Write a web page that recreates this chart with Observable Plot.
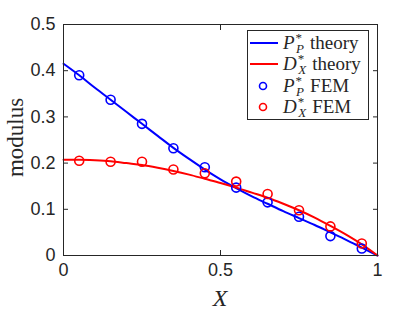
<!DOCTYPE html>
<html><head><meta charset="utf-8">
<script src="https://cdn.jsdelivr.net/npm/d3@7"></script>
<script src="https://cdn.jsdelivr.net/npm/@observablehq/plot@0.6"></script>
<style>html,body{margin:0;padding:0;background:#fff;}</style>
</head><body>
<div id="chart"></div>
<script>
// Data
const xTheory = [0,0.05,0.1,0.15,0.2,0.25,0.3,0.35,0.4,0.45,0.5,0.55,0.6,0.65,0.7,0.75,0.8,0.85,0.9,0.95,1];
const pTheory = [0.415,0.390,0.363,0.337,0.311,0.285,0.259,0.233,0.209,0.186,0.165,0.146,0.128,0.112,0.096,0.081,0.066,0.050,0.034,0.017,0];
const dTheory = [0.207,0.207,0.206,0.204,0.200,0.196,0.190,0.183,0.175,0.166,0.157,0.147,0.136,0.125,0.112,0.098,0.082,0.064,0.045,0.024,0];
const xFem = [0.05,0.15,0.25,0.35,0.45,0.55,0.65,0.75,0.85,0.95];
const pFem = [0.390,0.337,0.285,0.232,0.191,0.147,0.115,0.084,0.042,0.015];
const dFem = [0.205,0.203,0.203,0.186,0.178,0.160,0.133,0.098,0.063,0.026];
const xTicks = [0,0.5,1];
const yTicks = [0,0.1,0.2,0.3,0.4,0.5];
const xLabel = "X";
const yLabel = "modulus";

const blue = "#0000ff", red = "#ff0000", ink = "#262626";
const serif = "'Liberation Serif', 'Times New Roman', serif";
const theoryP = xTheory.map((x,i)=>({x, y:pTheory[i]}));
const theoryD = xTheory.map((x,i)=>({x, y:dTheory[i]}));
const femP = xFem.map((x,i)=>({x, y:pFem[i]}));
const femD = xFem.map((x,i)=>({x, y:dFem[i]}));
const fmt = d => String(d);

const W = 416, H = 313, mL = 63, mR = 39, mT = 24, mB = 58;
const chart = Plot.plot({
  width: W, height: H,
  marginLeft: mL, marginRight: mR, marginTop: mT, marginBottom: mB,
  style: {fontFamily: "'Liberation Sans', Arial, sans-serif", fontSize: "18px", color: ink, background: "#fff"},
  x: {domain: [0,1]},
  y: {domain: [0,0.5]},
  marks: [
    Plot.axisX({ticks: xTicks, tickSize: -5, tickPadding: 13, tickFormat: fmt, label: null, stroke: ink, fill: ink}),
    Plot.axisX({anchor: "top", ticks: xTicks, tickSize: -5, tickFormat: () => "", label: null, stroke: ink}),
    Plot.axisY({ticks: yTicks, tickSize: -5, tickPadding: 13, tickFormat: fmt, label: null, stroke: ink, fill: ink}),
    Plot.axisY({anchor: "right", ticks: yTicks, tickSize: -5, tickFormat: () => "", label: null, stroke: ink}),
    Plot.line(theoryP, {x: "x", y: "y", stroke: blue, strokeWidth: 2, curve: "monotone-x"}),
    Plot.line(theoryD, {x: "x", y: "y", stroke: red, strokeWidth: 2, curve: "monotone-x"}),
    Plot.dot(femP, {x: "x", y: "y", r: 4.5, stroke: blue, strokeWidth: 1.6, fill: "none"}),
    Plot.dot(femD, {x: "x", y: "y", r: 4.5, stroke: red, strokeWidth: 1.6, fill: "none"}),
    Plot.frame({stroke: ink, strokeWidth: 1})
  ]
});
document.getElementById("chart").appendChild(chart);

const svg = d3.select(chart);
// Axis titles
svg.append("text")
  .attr("transform", `translate(${mL - 40},${(mT + H - mB) / 2 - 2}) rotate(-90)`)
  .style("font-family", serif).style("font-size", "23px").style("text-anchor", "middle").style("fill", ink)
  .text(yLabel);
svg.append("text")
  .attr("x", (mL + W - mR) / 2).attr("y", H - 7)
  .style("font-family", serif).style("font-size", "24px").style("font-style", "italic")
  .style("text-anchor", "middle").style("fill", ink)
  .text(xLabel);

// Legend
const lg = svg.append("g");
lg.append("rect").attr("x", 247.5).attr("y", 30.5).attr("width", 121).attr("height", 89)
  .attr("fill", "#fff").attr("stroke", ink).attr("stroke-width", 1);
const entries = [
  {sym: "P", sub: "P", text: "theory", color: blue, kind: "line", y: 43},
  {sym: "D", sub: "X", text: "theory", color: red, kind: "line", y: 64},
  {sym: "P", sub: "P", text: "FEM", color: blue, kind: "dot", y: 86},
  {sym: "D", sub: "X", text: "FEM", color: red, kind: "dot", y: 107}
];
for (const e of entries) {
  if (e.kind === "line") {
    lg.append("line").attr("x1", 250).attr("x2", 278).attr("y1", e.y).attr("y2", e.y)
      .attr("stroke", e.color).attr("stroke-width", 2);
  } else {
    lg.append("circle").attr("cx", 263).attr("cy", e.y).attr("r", 3.5)
      .attr("fill", "none").attr("stroke", e.color).attr("stroke-width", 1.6);
  }
  const t = lg.append("text").attr("x", 283).attr("y", e.y + 6)
    .style("font-family", serif).style("font-size", "19px").style("text-anchor", "start").style("fill", ink);
  t.append("tspan").style("font-style", "italic").text(e.sym);
  t.append("tspan").style("font-size", "13px").attr("dy", -7).attr("dx", 1).text("*");
  t.append("tspan").style("font-size", "13px").style("font-style", "italic").attr("dy", 11).attr("dx", -6).text(e.sub);
  t.append("tspan").attr("dy", -4).attr("dx", 6).text(e.text);
}
</script>
</body></html>
